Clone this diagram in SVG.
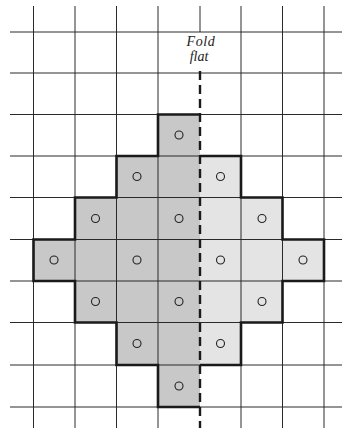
<svg xmlns="http://www.w3.org/2000/svg" width="342" height="430" viewBox="0 0 342 430">
<style>
.g{stroke:#2a2a2a;stroke-width:1;fill:none}
.dark{fill:#c8c8c8}
.light{fill:#e4e4e4}
.edge{fill:none;stroke:#1a1a1a;stroke-width:2.6;stroke-linejoin:miter}
.dot{fill:none;stroke:#222;stroke-width:1.1}
.lbl{font-family:"Liberation Serif",serif;font-style:italic;font-size:14px;fill:#222;text-anchor:middle}
</style>
<rect width="342" height="430" fill="#fff"/>
<g id="shape-left">
<path class="dark" d="M158,114.5 H200 V407 H158 V365 H116.5 V322.5 H75 V281 H33.5 V239.5 H75 V197.5 H116.5 V156 H158 Z"/>
</g>
<g id="shape-right">
<path class="light" d="M200,156 H241 V197.5 H282.5 V239.5 H324 V281 H282.5 V322.5 H241 V365 H200 Z"/>
</g>
<g id="grid">
<path class="g" d="M33.5,6 V428 M75,6 V428 M116.5,6 V428 M158,6 V428 M241,6 V428 M282.5,6 V428 M324,6 V428 M200,6 V32"/>
<path class="g" d="M10,32 H342 M10,73 H342 M10,114.5 H342 M10,156 H342 M10,197.5 H342 M10,239.5 H342 M10,281 H342 M10,322.5 H342 M10,365 H342 M10,407 H342"/>
</g>
<g id="outlines">
<path class="edge" d="M200,114.5 H158 V156 H116.5 V197.5 H75 V239.5 H33.5 V281 H75 V322.5 H116.5 V365 H158 V407 H200"/>
<path class="edge" d="M200,156 H241 V197.5 H282.5 V239.5 H324 V281 H282.5 V322.5 H241 V365 H200"/>
</g>
<g id="fold">
<line x1="200" y1="71" x2="200" y2="428" stroke="#1a1a1a" stroke-width="2.4" stroke-dasharray="9,5"/>
<text class="lbl" x="201" y="46" letter-spacing="0.6">Fold</text>
<text class="lbl" x="199" y="61">flat</text>
</g>
<g id="circles">
<circle class="dot" cx="179" cy="135" r="4"/>
<circle class="dot" cx="137" cy="176.5" r="4"/>
<circle class="dot" cx="220.5" cy="176.5" r="4"/>
<circle class="dot" cx="95.5" cy="218.5" r="4"/>
<circle class="dot" cx="179" cy="218.5" r="4"/>
<circle class="dot" cx="262" cy="218.5" r="4"/>
<circle class="dot" cx="54" cy="260" r="4"/>
<circle class="dot" cx="137" cy="260" r="4"/>
<circle class="dot" cx="220.5" cy="260" r="4"/>
<circle class="dot" cx="303" cy="260" r="4"/>
<circle class="dot" cx="95.5" cy="301.5" r="4"/>
<circle class="dot" cx="179" cy="301.5" r="4"/>
<circle class="dot" cx="262" cy="301.5" r="4"/>
<circle class="dot" cx="137" cy="343.5" r="4"/>
<circle class="dot" cx="220.5" cy="343.5" r="4"/>
<circle class="dot" cx="179" cy="386" r="4"/>
</g>
</svg>
